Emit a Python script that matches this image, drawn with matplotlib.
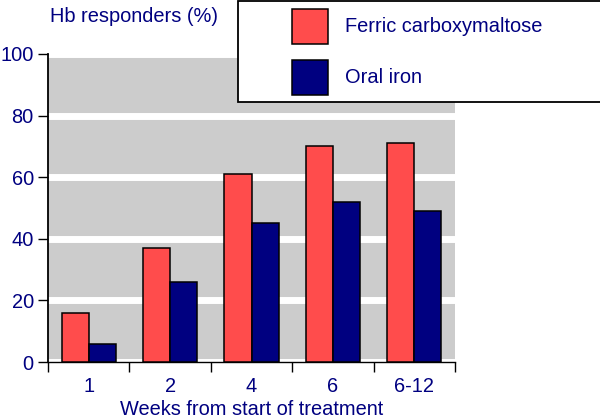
import numpy as np
import matplotlib
matplotlib.use('Agg')
from matplotlib import pyplot as plt
from matplotlib.patches import Rectangle

plt.rcParams['font.family'] = ['Liberation Sans', 'DejaVu Sans']

weeks = ['1', '2', '4', '6', '6-12']
ferric = [16, 37, 61, 70, 71]
oral = [6, 26, 45, 52, 49]
series_names = ['Ferric carboxymaltose', 'Oral iron']
red = '#ff4c4c'
navy = '#000080'
txt = '#000080'
W, H = 600, 419

fig = plt.figure(figsize=(W / 100, H / 100), dpi=100)
ax = fig.add_axes([48 / W, 1 - 362 / H, (455 - 48) / W, (362 - 54) / H])
ax.set_facecolor('#cccccc')

x = np.arange(len(weeks))
bw = 1 / 3
ax.bar(x - bw / 2, ferric, bw, color=red, edgecolor='black', linewidth=1.1, zorder=3)
ax.bar(x + bw / 2, oral, bw, color=navy, edgecolor='black', linewidth=1.1, zorder=3)

ax.set_xlim(-0.5, len(weeks) - 0.5)
ax.set_ylim(0, 100)
ax.set_yticks(range(0, 101, 20))
ax.grid(axis='y', color='white', linewidth=5)
ax.set_axisbelow(True)

# ticks at the category edges, labels centred under each group
ax.set_xticks(np.arange(len(weeks) + 1) - 0.5)
ax.set_xticklabels([])
ax.set_xticks(x, minor=True)
ax.set_xticklabels(weeks, minor=True)
ax.tick_params(axis='x', which='major', direction='out', length=7, width=1, color='black')
ax.tick_params(axis='x', which='minor', length=0, pad=11, labelsize=14.4, labelcolor=txt)
ax.tick_params(axis='y', direction='out', length=7.2, width=1, pad=3,
               labelsize=14.4, labelcolor=txt)

for s in ['top', 'right']:
    ax.spines[s].set_visible(False)
ax.spines['left'].set_linewidth(1.3)
ax.spines['bottom'].set_linewidth(1.0)

ax.set_xlabel('Weeks from start of treatment', fontsize=14.4, color=txt, labelpad=3)
fig.text(50 / W, 1 - 17 / H, 'Hb responders (%)', fontsize=14.4, color=txt,
         ha='left', va='center')

# legend box
def fx(px):
    return px / W

def fy(py):
    return 1 - py / H

fig.add_artist(Rectangle((fx(238), fy(102)), fx(380), (102 - 1) / H,
                         transform=fig.transFigure, facecolor='white',
                         edgecolor='black', linewidth=1.3, zorder=10))
for i, (name, col) in enumerate(zip(series_names, [red, navy])):
    top = 9 + i * 51
    fig.add_artist(Rectangle((fx(292), fy(top + 35)), fx(36), 35 / H,
                             transform=fig.transFigure, facecolor=col,
                             edgecolor='black', linewidth=1.1, zorder=11))
    fig.text(fx(345), fy(top + 17.5), name, fontsize=14.4, color=txt,
             ha='left', va='center', zorder=12)

fig.savefig('out.png', dpi=100)
